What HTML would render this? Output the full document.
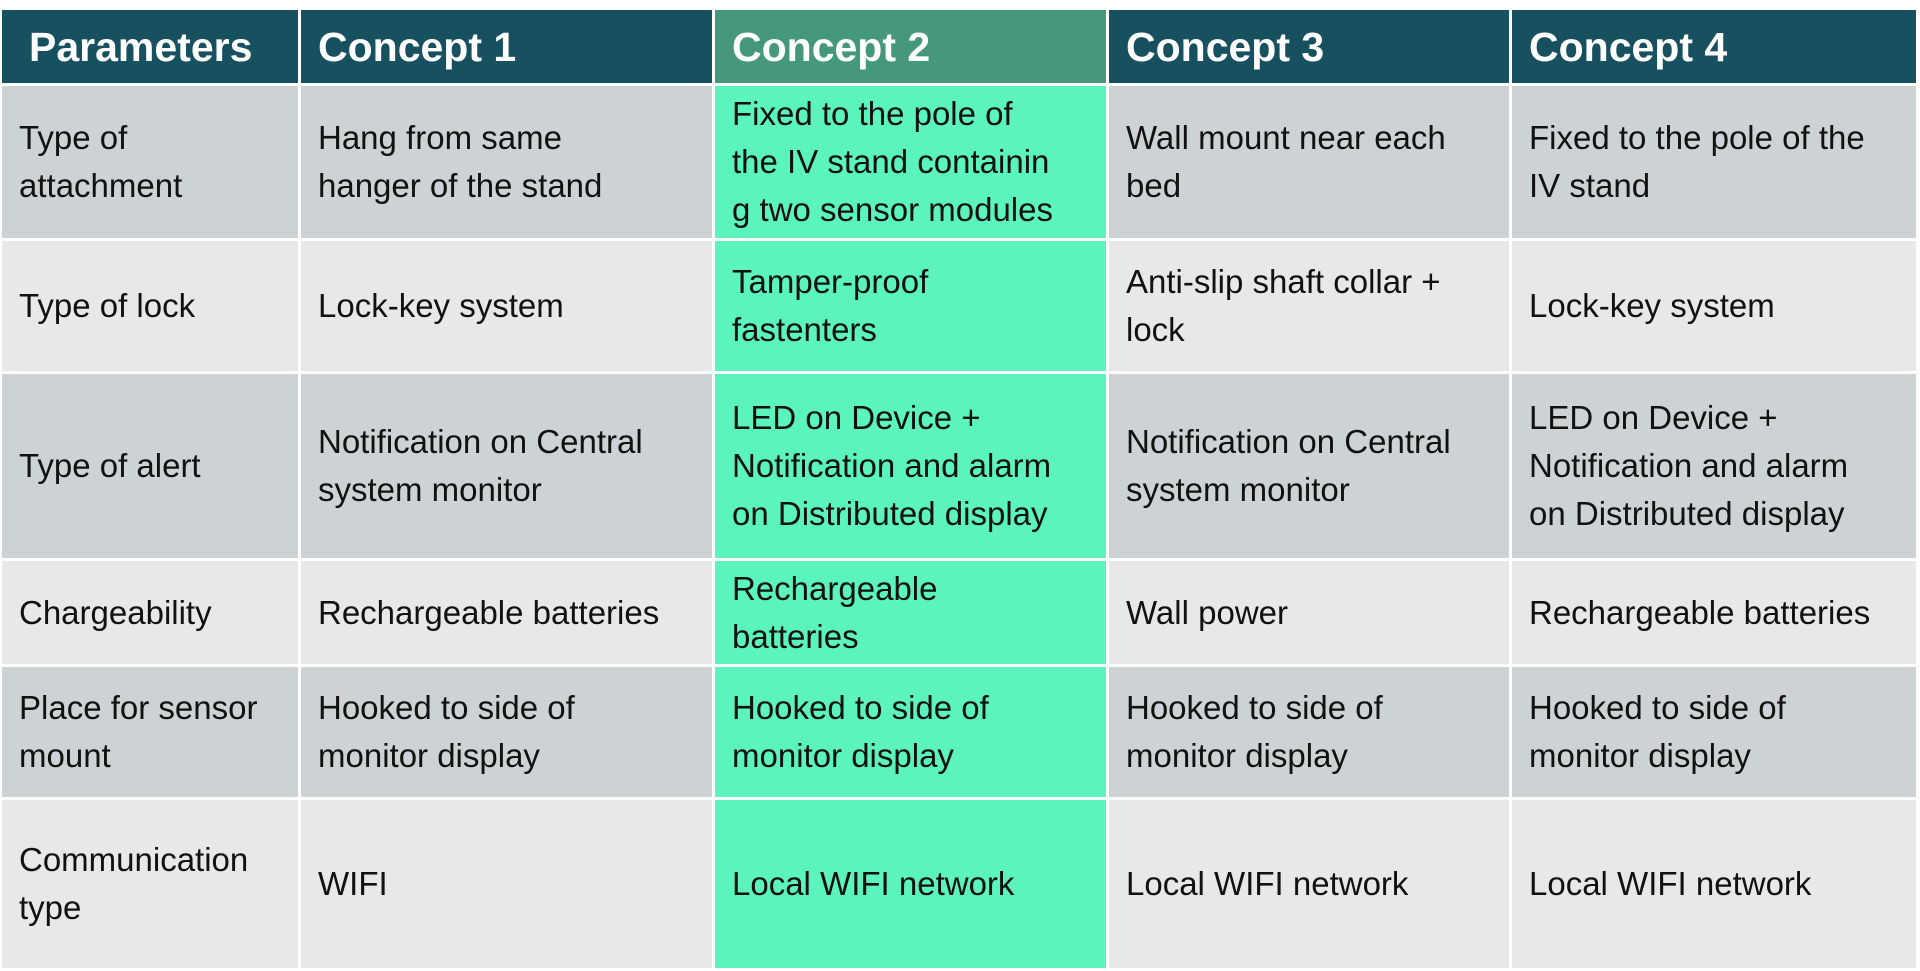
<!DOCTYPE html>
<html><head><style>
html,body{margin:0;padding:0;background:#fff;width:1920px;height:971px;overflow:hidden}
.t{position:absolute;left:2px;top:10px;width:1916px;display:grid;
grid-template-columns:296px 411px 391px 400px 404px;
grid-template-rows:73px 152px 130px 184px 103px 130px 168px;
column-gap:3px;row-gap:3px;font-family:"Liberation Sans Narrow","Liberation Sans",sans-serif}
.t div{display:flex;align-items:center;padding-left:17px;font-size:33px;line-height:48px;color:#111;box-sizing:border-box;white-space:nowrap}
.h{background:#17505f;color:#fff!important;font-weight:bold;font-size:41px!important;padding-left:17px!important}
.h1{padding-left:27px!important}
.hg{background:#45987a}
.d{background:#cdd2d4}
.l{background:#e7e8e9}
.g{background:#5cf4bd}
</style></head><body>
<div class="t">
<div class="h h1">Parameters</div><div class="h">Concept 1</div><div class="h hg">Concept 2</div><div class="h">Concept 3</div><div class="h">Concept 4</div>

<div class="d">Type of<br>attachment</div><div class="d">Hang from same<br>hanger of the stand</div><div class="g">Fixed to the pole of<br>the IV stand containin<br>g two sensor modules</div><div class="d">Wall mount near each<br>bed</div><div class="d">Fixed to the pole of the<br>IV stand</div>

<div class="l">Type of lock</div><div class="l">Lock-key system</div><div class="g">Tamper-proof<br>fastenters</div><div class="l">Anti-slip shaft collar +<br>lock</div><div class="l">Lock-key system</div>

<div class="d">Type of alert</div><div class="d">Notification on Central<br>system monitor</div><div class="g">LED on Device +<br>Notification and alarm<br>on Distributed display</div><div class="d">Notification on Central<br>system monitor</div><div class="d">LED on Device +<br>Notification and alarm<br>on Distributed display</div>

<div class="l">Chargeability</div><div class="l">Rechargeable batteries</div><div class="g">Rechargeable<br>batteries</div><div class="l">Wall power</div><div class="l">Rechargeable batteries</div>

<div class="d">Place for sensor<br>mount</div><div class="d">Hooked to side of<br>monitor display</div><div class="g">Hooked to side of<br>monitor display</div><div class="d">Hooked to side of<br>monitor display</div><div class="d">Hooked to side of<br>monitor display</div>

<div class="l">Communication<br>type</div><div class="l">WIFI</div><div class="g">Local WIFI network</div><div class="l">Local WIFI network</div><div class="l">Local WIFI network</div>
</div>
</body></html>
